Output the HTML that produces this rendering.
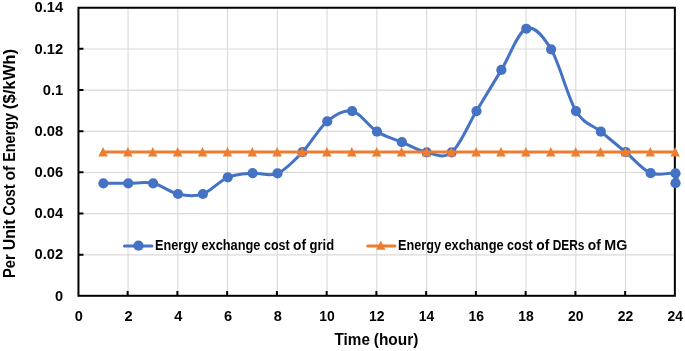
<!DOCTYPE html>
<html><head><meta charset="utf-8"><title>Energy exchange cost</title>
<style>html,body{margin:0;padding:0;background:#fff}svg{display:block}text{font-family:"Liberation Sans",sans-serif;font-weight:bold;fill:#000}</style></head><body>
<svg width="685" height="351" viewBox="0 0 685 351">
<rect width="685" height="351" fill="#fff"/>
<path d="M128.05 7.75 V295.80 M177.80 7.75 V295.80 M227.55 7.75 V295.80 M277.30 7.75 V295.80 M327.05 7.75 V295.80 M376.80 7.75 V295.80 M426.55 7.75 V295.80 M476.30 7.75 V295.80 M526.05 7.75 V295.80 M575.80 7.75 V295.80 M625.55 7.75 V295.80 M78.45 254.84 H674.85 M78.45 213.67 H674.85 M78.45 172.50 H674.85 M78.45 131.34 H674.85 M78.45 90.17 H674.85 M78.45 49.01 H674.85" stroke="#D9D9D9" stroke-width="1.1" fill="none"/>
<path d="M127.65 295.80 V290.90 M177.40 295.80 V290.90 M227.15 295.80 V290.90 M276.90 295.80 V290.90 M326.65 295.80 V290.90 M376.40 295.80 V290.90 M426.15 295.80 V290.90 M475.90 295.80 V290.90 M525.65 295.80 V290.90 M575.40 295.80 V290.90 M625.15 295.80 V290.90 M78.45 254.69 H83.45 M78.45 213.52 H83.45 M78.45 172.35 H83.45 M78.45 131.19 H83.45 M78.45 90.02 H83.45 M78.45 48.86 H83.45" stroke="#000" stroke-width="2" fill="none"/>
<rect x="78.45" y="7.75" width="596.40" height="288.05" fill="none" stroke="#000" stroke-width="2"/>
<path d="M124.5 246.00 H151.9" stroke="#4472C4" stroke-width="3" stroke-linecap="round"/>
<circle cx="138.5" cy="245.65" r="5.1" fill="#4472C4"/>
<path d="M367.7 245.95 H394.95" stroke="#ED7D31" stroke-width="3" stroke-linecap="round"/>
<path d="M380.8 240.5 L385.45 249.65 L376.15 249.65 Z" fill="#ED7D31"/>
<text y="249.60" font-size="14.30" ><tspan x="154.95" textLength="42.99" lengthAdjust="spacingAndGlyphs">Energy</tspan> <tspan x="201.39" textLength="59.12" lengthAdjust="spacingAndGlyphs">exchange</tspan> <tspan x="263.96" textLength="25.70" lengthAdjust="spacingAndGlyphs">cost</tspan> <tspan x="293.11" textLength="13.02" lengthAdjust="spacingAndGlyphs">of</tspan> <tspan x="309.58" textLength="24.58" lengthAdjust="spacingAndGlyphs">grid</tspan></text>
<text y="249.60" font-size="14.30" ><tspan x="398.05" textLength="42.99" lengthAdjust="spacingAndGlyphs">Energy</tspan> <tspan x="444.49" textLength="59.12" lengthAdjust="spacingAndGlyphs">exchange</tspan> <tspan x="507.06" textLength="25.70" lengthAdjust="spacingAndGlyphs">cost</tspan> <tspan x="536.21" textLength="13.02" lengthAdjust="spacingAndGlyphs">of</tspan> <tspan x="552.68" textLength="31.72" lengthAdjust="spacingAndGlyphs">DERs</tspan> <tspan x="587.85" textLength="13.02" lengthAdjust="spacingAndGlyphs">of</tspan> <tspan x="604.32" textLength="23.05" lengthAdjust="spacingAndGlyphs">MG</tspan></text>
<path d="M103.38 183.34 C107.52 183.34 119.96 183.35 128.25 183.34 C136.54 183.34 144.83 181.53 153.12 183.30 C161.42 185.08 169.71 192.22 178.00 194.00 C186.29 195.79 194.58 196.78 202.88 194.00 C211.17 191.23 219.46 180.80 227.75 177.33 C236.04 173.87 244.33 173.87 252.62 173.22 C260.92 172.56 269.21 176.92 277.50 173.42 C285.79 169.92 294.08 160.90 302.38 152.22 C310.67 143.54 318.96 128.21 327.25 121.35 C335.54 114.49 343.83 109.34 352.12 111.06 C360.42 112.77 368.71 126.46 377.00 131.64 C385.29 136.82 393.58 138.67 401.88 142.14 C410.17 145.60 418.46 150.71 426.75 152.43 C435.04 154.14 443.33 159.32 451.62 152.43 C459.92 145.53 468.21 124.81 476.50 111.06 C484.79 97.30 493.08 83.61 501.38 69.89 C509.67 56.17 517.96 32.16 526.25 28.73 C534.54 25.30 542.83 35.59 551.12 49.31 C559.42 63.03 567.71 97.34 576.00 111.06 C584.29 124.78 592.58 124.78 600.88 131.64 C609.17 138.50 617.46 145.29 625.75 152.22 C634.04 159.15 642.33 169.70 650.62 173.22 C658.92 176.73 671.35 171.66 675.50 173.32 C679.65 174.98 675.50 181.55 675.50 183.20" stroke="#4472C4" stroke-width="3" fill="none" stroke-linecap="round" stroke-linejoin="round"/>
<circle cx="103.38" cy="183.34" r="5.1" fill="#4472C4"/>
<circle cx="128.25" cy="183.34" r="5.1" fill="#4472C4"/>
<circle cx="153.12" cy="183.30" r="5.1" fill="#4472C4"/>
<circle cx="178.00" cy="194.00" r="5.1" fill="#4472C4"/>
<circle cx="202.88" cy="194.00" r="5.1" fill="#4472C4"/>
<circle cx="227.75" cy="177.33" r="5.1" fill="#4472C4"/>
<circle cx="252.62" cy="173.22" r="5.1" fill="#4472C4"/>
<circle cx="277.50" cy="173.42" r="5.1" fill="#4472C4"/>
<circle cx="302.38" cy="152.22" r="5.1" fill="#4472C4"/>
<circle cx="327.25" cy="121.35" r="5.1" fill="#4472C4"/>
<circle cx="352.12" cy="111.06" r="5.1" fill="#4472C4"/>
<circle cx="377.00" cy="131.64" r="5.1" fill="#4472C4"/>
<circle cx="401.88" cy="142.14" r="5.1" fill="#4472C4"/>
<circle cx="426.75" cy="152.43" r="5.1" fill="#4472C4"/>
<circle cx="451.62" cy="152.43" r="5.1" fill="#4472C4"/>
<circle cx="476.50" cy="111.06" r="5.1" fill="#4472C4"/>
<circle cx="501.38" cy="69.89" r="5.1" fill="#4472C4"/>
<circle cx="526.25" cy="28.73" r="5.1" fill="#4472C4"/>
<circle cx="551.12" cy="49.31" r="5.1" fill="#4472C4"/>
<circle cx="576.00" cy="111.06" r="5.1" fill="#4472C4"/>
<circle cx="600.88" cy="131.64" r="5.1" fill="#4472C4"/>
<circle cx="625.75" cy="152.22" r="5.1" fill="#4472C4"/>
<circle cx="650.62" cy="173.22" r="5.1" fill="#4472C4"/>
<circle cx="675.50" cy="173.32" r="5.1" fill="#4472C4"/>
<circle cx="675.50" cy="183.20" r="5.1" fill="#4472C4"/>
<path d="M103.17 151.92 H675.30" stroke="#ED7D31" stroke-width="3" stroke-linecap="round"/>
<path d="M103.02 146.92 L107.72 156.62 L98.33 156.62 Z M127.90 146.92 L132.60 156.62 L123.20 156.62 Z M152.78 146.92 L157.48 156.62 L148.08 156.62 Z M177.65 146.92 L182.35 156.62 L172.95 156.62 Z M202.53 146.92 L207.23 156.62 L197.83 156.62 Z M227.40 146.92 L232.10 156.62 L222.70 156.62 Z M252.28 146.92 L256.98 156.62 L247.58 156.62 Z M277.15 146.92 L281.85 156.62 L272.45 156.62 Z M302.03 146.92 L306.73 156.62 L297.32 156.62 Z M326.90 146.92 L331.60 156.62 L322.20 156.62 Z M351.78 146.92 L356.48 156.62 L347.07 156.62 Z M376.65 146.92 L381.35 156.62 L371.95 156.62 Z M401.53 146.92 L406.23 156.62 L396.82 156.62 Z M426.40 146.92 L431.10 156.62 L421.70 156.62 Z M451.28 146.92 L455.98 156.62 L446.57 156.62 Z M476.15 146.92 L480.85 156.62 L471.45 156.62 Z M501.03 146.92 L505.73 156.62 L496.32 156.62 Z M525.90 146.92 L530.60 156.62 L521.20 156.62 Z M550.77 146.92 L555.47 156.62 L546.07 156.62 Z M575.65 146.92 L580.35 156.62 L570.95 156.62 Z M600.52 146.92 L605.22 156.62 L595.82 156.62 Z M625.40 146.92 L630.10 156.62 L620.70 156.62 Z M650.27 146.92 L654.97 156.62 L645.57 156.62 Z M675.15 146.92 L679.85 156.62 L670.45 156.62 Z" fill="#ED7D31"/>
<text x="55.09" y="300.60" font-size="14.9" textLength="8.11" lengthAdjust="spacingAndGlyphs">0</text>
<text x="34.59" y="259.44" font-size="14.9" textLength="28.61" lengthAdjust="spacingAndGlyphs">0.02</text>
<text x="34.59" y="218.27" font-size="14.9" textLength="28.61" lengthAdjust="spacingAndGlyphs">0.04</text>
<text x="34.59" y="177.10" font-size="14.9" textLength="28.61" lengthAdjust="spacingAndGlyphs">0.06</text>
<text x="34.59" y="135.94" font-size="14.9" textLength="28.61" lengthAdjust="spacingAndGlyphs">0.08</text>
<text x="42.70" y="94.77" font-size="14.9" textLength="20.50" lengthAdjust="spacingAndGlyphs">0.1</text>
<text x="34.59" y="53.61" font-size="14.9" textLength="28.61" lengthAdjust="spacingAndGlyphs">0.12</text>
<text x="34.59" y="12.44" font-size="14.9" textLength="28.61" lengthAdjust="spacingAndGlyphs">0.14</text>
<text x="74.65" y="321.20" font-size="14.9" textLength="8.11" lengthAdjust="spacingAndGlyphs">0</text>
<text x="124.40" y="321.20" font-size="14.9" textLength="8.11" lengthAdjust="spacingAndGlyphs">2</text>
<text x="174.15" y="321.20" font-size="14.9" textLength="8.11" lengthAdjust="spacingAndGlyphs">4</text>
<text x="223.90" y="321.20" font-size="14.9" textLength="8.11" lengthAdjust="spacingAndGlyphs">6</text>
<text x="273.64" y="321.20" font-size="14.9" textLength="8.11" lengthAdjust="spacingAndGlyphs">8</text>
<text x="319.30" y="321.20" font-size="14.9" textLength="15.50" lengthAdjust="spacingAndGlyphs">10</text>
<text x="369.05" y="321.20" font-size="14.9" textLength="15.50" lengthAdjust="spacingAndGlyphs">12</text>
<text x="418.80" y="321.20" font-size="14.9" textLength="15.50" lengthAdjust="spacingAndGlyphs">14</text>
<text x="468.55" y="321.20" font-size="14.9" textLength="15.50" lengthAdjust="spacingAndGlyphs">16</text>
<text x="518.30" y="321.20" font-size="14.9" textLength="15.50" lengthAdjust="spacingAndGlyphs">18</text>
<text x="568.05" y="321.20" font-size="14.9" textLength="15.50" lengthAdjust="spacingAndGlyphs">20</text>
<text x="617.80" y="321.20" font-size="14.9" textLength="15.50" lengthAdjust="spacingAndGlyphs">22</text>
<text x="667.55" y="321.20" font-size="14.9" textLength="15.50" lengthAdjust="spacingAndGlyphs">24</text>
<text y="345.30" font-size="16.20" ><tspan x="334.50" textLength="35.39" lengthAdjust="spacingAndGlyphs">Time</tspan> <tspan x="373.78" textLength="44.54" lengthAdjust="spacingAndGlyphs">(hour)</tspan></text>
<text y="0.00" font-size="16.20" transform="translate(15.4 278) rotate(-90)"><tspan x="0.00" textLength="23.79" lengthAdjust="spacingAndGlyphs">Per</tspan> <tspan x="27.70" textLength="30.82" lengthAdjust="spacingAndGlyphs">Unit</tspan> <tspan x="62.43" textLength="31.16" lengthAdjust="spacingAndGlyphs">Cost</tspan> <tspan x="97.51" textLength="14.77" lengthAdjust="spacingAndGlyphs">of</tspan> <tspan x="116.19" textLength="48.77" lengthAdjust="spacingAndGlyphs">Energy</tspan> <tspan x="168.88" textLength="60.25" lengthAdjust="spacingAndGlyphs">($/kWh)</tspan></text>
</svg></body></html>
